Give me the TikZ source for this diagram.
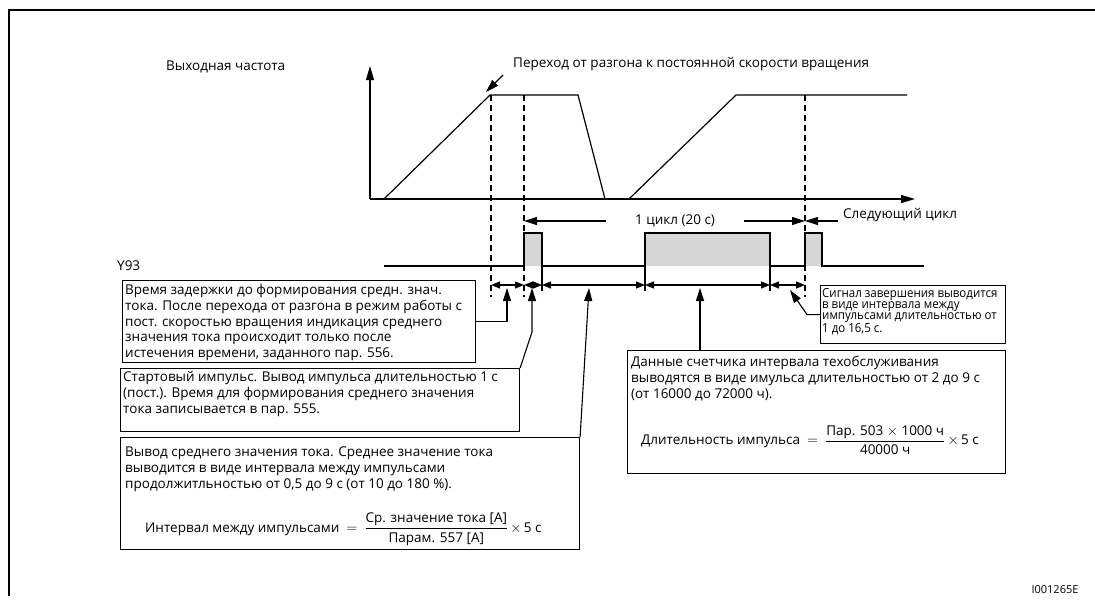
\documentclass[tikz,border=0pt]{standalone}
\usepackage{amsmath}
\usepackage{fontspec}
\setmainfont{Open Sans}
\newfontfamily\narrowfont{Open Sans}[FakeStretch=0.92]
\usetikzlibrary{arrows.meta}
\definecolor{pulsegray}{gray}{0.84}

\begin{document}
\begin{tikzpicture}[
  x=1pt, y=-1pt,
  ax/.style={line width=1.2pt,-{Triangle[length=14pt,width=8pt]}},
  sig/.style={line width=1.2pt},
  guide/.style={line width=1.1pt,dash pattern=on 6pt off 4pt},
  dim/.style={line width=1.1pt,{Triangle[length=9pt,width=7pt]}-{Triangle[length=9pt,width=7pt]}},
  ptr/.style={line width=1.1pt,-{Triangle[length=13pt,width=8pt]}},
  note/.style={draw,line width=1.1pt,inner sep=0pt,anchor=north west},
  txt/.style={inner sep=0pt,anchor=north west,align=left,font=\fontsize{13.5}{15.8}\selectfont},
  lbl/.style={inner sep=0pt,font=\fontsize{13.5}{15.8}\selectfont}
]
\useasboundingbox (0,0) rectangle (1095,606);
%% ─── Frame ───────────────────────────────────────────────────────────────────
\draw[line width=1.3pt] (9,596) -- (9,10) -- (1095,10);
%% ─── Output frequency ────────────────────────────────────────────────────────
\coordinate (O) at (370,199);
\coordinate (ytop) at (370,66);
\coordinate (xend) at (915,199);
\coordinate (acc) at (490,95);
\draw[ax] (O) -- (ytop);
\draw[ax] (O) -- (xend);
\draw[sig] (384,199) -- (acc) -- (578,95) -- (605,199)
           (629,199) -- (736,95) -- (907,95);
\foreach \x in {491,524,805} \draw[guide] (\x,95) -- (\x,297);
\node[lbl,anchor=west] (freq) at (166,67) {Выходная частота};
\node[lbl,anchor=west] (trans) at (513,64)
  {Переход от разгона к постоянной скорости вращения};
\draw[ptr] ([shift={(-10pt,-11pt)}]trans.west) -- ([shift={(-4pt,3pt)}]acc);
%% ─── Y93 signal ──────────────────────────────────────────────────────────────
\node[lbl,anchor=west] (y93) at (117,266) {Y93};
\fill[pulsegray] (524,233) rectangle (542,266)
                 (645,233) rectangle (770,266)
                 (805,233) rectangle (822,266);
\draw[sig] (384,266) -- (524,266) -- (524,233) -- (542,233) -- (542,266)
  -- (645,266) -- (645,233) -- (770,233) -- (770,266) -- (805,266)
  -- (805,233) -- (822,233) -- (822,266) -- (924,266);
\foreach \x in {542,645,770} \draw[sig] (\x,266) -- (\x,291);
\foreach \n/\x in {1/491,2/524,3/542,4/645,5/770,6/805}
  \coordinate (t\n) at (\x,285);
\foreach \a/\b in {1/2,2/3,3/4,4/5,5/6} \draw[dim] (t\a) -- (t\b);
\node[lbl,inner xsep=29pt] (cyc) at (675,221) {1 цикл (20 с)};
\draw[ptr] (cyc.west) -- (cyc.west -| t2);
\draw[ptr] (cyc.east) -- (cyc.east -| t6);
\node[lbl,anchor=west,inner xsep=5pt] (nxt) at (838,215) {Следующий цикл};
\draw[ptr] (nxt.west |- cyc.east) -- (t6 |- cyc.east);
%% ─── Notes ───────────────────────────────────────────────────────────────────
\node[note,minimum width=353pt,minimum height=82pt] (b1) at (122,280) {};
\node[note,minimum width=399pt,minimum height=63pt] (b2) at (120,368) {};
\node[note,minimum width=459pt,minimum height=112pt] (b3) at (120,437) {};
\node[note,minimum width=378pt,minimum height=123pt] (b4) at (627,350) {};
\node[note,minimum width=185pt,minimum height=58pt] (b5) at (820,285) {};
\node[txt] (d1) at ([shift={(3pt,-4pt)}]b1.north west)
  {Время задержки до формирования средн. знач.\\
   тока. После перехода от разгона в режим работы с\\
   пост. скоростью вращения индикация среднего\\
   значения тока происходит только после\\
   истечения времени, заданного пар. 556.};
\node[txt] (d2) at ([shift={(3pt,-3pt)}]b2.north west)
  {Стартовый импульс. Вывод импульса длительностью 1 с\\
   (пост.). Время для формирования среднего значения\\
   тока записывается в пар. 555.};
\node[txt] (d3) at ([shift={(5pt,-10pt)}]b3.north west)
  {Вывод среднего значения тока. Среднее значение тока\\
   выводится в виде интервала между импульсами\\
   продолжитльностью от 0,5 до 9 с (от 10 до 180 \%).};
\node[lbl,anchor=west] (f3) at (145,529)
  {Интервал между импульсами~~$=$~~$\dfrac{\text{Ср. значение тока [A]}}{\text{Парам. 557 [A]}}$\,$\times$\,5~с};
\node[txt] (d4) at ([shift={(4pt,-6pt)}]b4.north west)
  {Данные счетчика интервала техобслуживания\\
   выводятся в виде имульса длительностью от 2 до 9 с\\
   (от 16000 до 72000 ч).};
\node[lbl,anchor=west] (f4) at (641,440)
  {Длительность импульса~~$=$~~$\dfrac{\text{Пар. 503 $\times$ 1000 ч}}{\text{40000 ч}}$\,$\times$\,5~с};
\node[txt,font=\narrowfont\fontsize{12.5}{11}\selectfont] (d5) at ([shift={(2pt,-3pt)}]b5.north west)
  {Сигнал завершения выводится\\
   в виде интервала между\\
   импульсами длительностью от\\
   1 до 16,5 с.};
%% ─── Pointers ────────────────────────────────────────────────────────────────
\foreach \n/\x in {1/507,2/532,3/589,4/700,5/792}
  \coordinate (m\n) at (\x,288);
\draw[ptr] (b1.east) -| (m1);
\draw[ptr] (b2.north east) -- ([yshift=-44pt]m2) -- (m2);
\draw[ptr] (b3.north east) -- (m3);
\draw[ptr] (m4 |- b4.north) -- (m4);
\draw[ptr] (b5.west) -- ++(-13,0) -- ([shift={(-2pt,-2pt)}]m5);
\node[lbl,font=\fontsize{11}{13}\selectfont] (fig) at (1055,590) {I001265E};
\end{tikzpicture}
\end{document}
